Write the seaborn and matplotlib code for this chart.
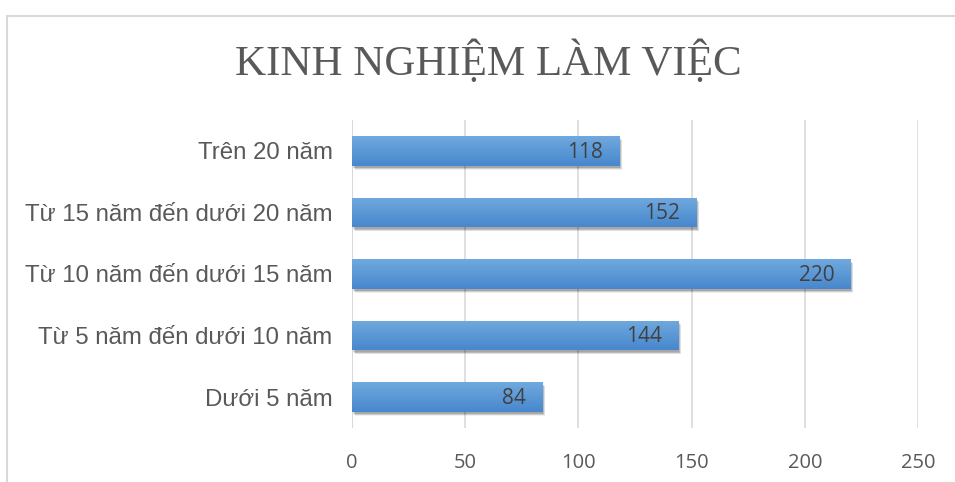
import numpy as np
import pandas as pd
import matplotlib
matplotlib.use("Agg")
import matplotlib.pyplot as plt
import matplotlib.transforms as mtransforms
from matplotlib.colors import LinearSegmentedColormap
from matplotlib.patches import Rectangle
import seaborn as sns

# Data
categories = ["Trên 20 năm", "Từ 15 năm đến dưới 20 năm", "Từ 10 năm đến dưới 15 năm",
              "Từ 5 năm đến dưới 10 năm", "Dưới 5 năm"]
counts = [118, 152, 220, 144, 84]
x_ticks = [0, 50, 100, 150, 200, 250]
title = "KINH NGHIỆM LÀM VIỆC"

df = pd.DataFrame({"category": categories, "count": counts})

sns.set_theme(style="white")
plt.rcParams["font.family"] = ["Liberation Sans", "DejaVu Sans"]

fig = plt.figure(figsize=(9.55, 4.82), dpi=100)
ax = fig.add_axes([352 / 955, 54 / 482, 566 / 955, 308 / 482])

sns.barplot(data=df, x="count", y="category", orient="h", color="#5b9bd5",
            width=0.48, ax=ax, zorder=3, saturation=1, linewidth=0)

# gradient fill + soft drop shadow on each bar
grad = LinearSegmentedColormap.from_list("bar", ["#70a9de", "#4787cd"])
for p in ax.patches:
    x0, y0 = p.get_x(), p.get_y()
    w, h = p.get_width(), p.get_height()
    p.set_linewidth(0)
    for dx, dy, a in [(3, -4, 0.06), (2.5, -3.5, 0.07), (2, -3, 0.08),
                      (1.5, -2.5, 0.09), (1, -2, 0.1)]:
        tr = mtransforms.offset_copy(ax.transData, fig=fig, x=dx, y=dy, units="dots")
        ax.add_patch(Rectangle((x0, y0), w, h, transform=tr, facecolor="#000000",
                               alpha=a, linewidth=0, zorder=2.5))
    img = ax.imshow(np.linspace(0, 1, 64).reshape(-1, 1), cmap=grad, aspect="auto",
                    extent=(x0, x0 + w, y0 + h, y0), zorder=4, interpolation="bilinear")
    img.set_clip_path(p)

# value labels inside bar ends
for i, v in enumerate(counts):
    ax.text(v - 7, i + 0.02, str(v), ha="right", va="center", fontsize=15,
            color="#404040", family=["Open Sans", "DejaVu Sans"], zorder=5)

ax.set_xlim(0, 250)
ax.set_ylim(4.5, -0.5)
ax.set_xticks(x_ticks)
ax.xaxis.grid(True, color="#d9d9d9", linewidth=1.2, zorder=0)
ax.set_axisbelow(True)
for s in ax.spines.values():
    s.set_visible(False)
ax.axvline(0, color="#d9d9d9", linewidth=1.5, zorder=2)
ax.set_xlabel("")
ax.set_ylabel("")
ax.tick_params(axis="y", length=0, pad=14, labelsize=17.3, labelcolor="#595959")
ax.tick_params(axis="x", length=0, pad=18, labelsize=14.5, labelcolor="#595959")
for t in ax.get_xticklabels():
    t.set_family(["Open Sans", "DejaVu Sans"])

fig.text(488 / 955, 1 - 62 / 482, title, ha="center", va="center", fontsize=31,
         color="#595959", family=["Liberation Serif", "DejaVu Serif"])

# chart frame
fig.patches.append(Rectangle((7 / 955, -0.05), 1.1, 1 - 15.5 / 482 + 0.05,
                             transform=fig.transFigure, fill=False,
                             edgecolor="#d9d9d9", linewidth=1.5))

fig.savefig("out.png", dpi=100)
